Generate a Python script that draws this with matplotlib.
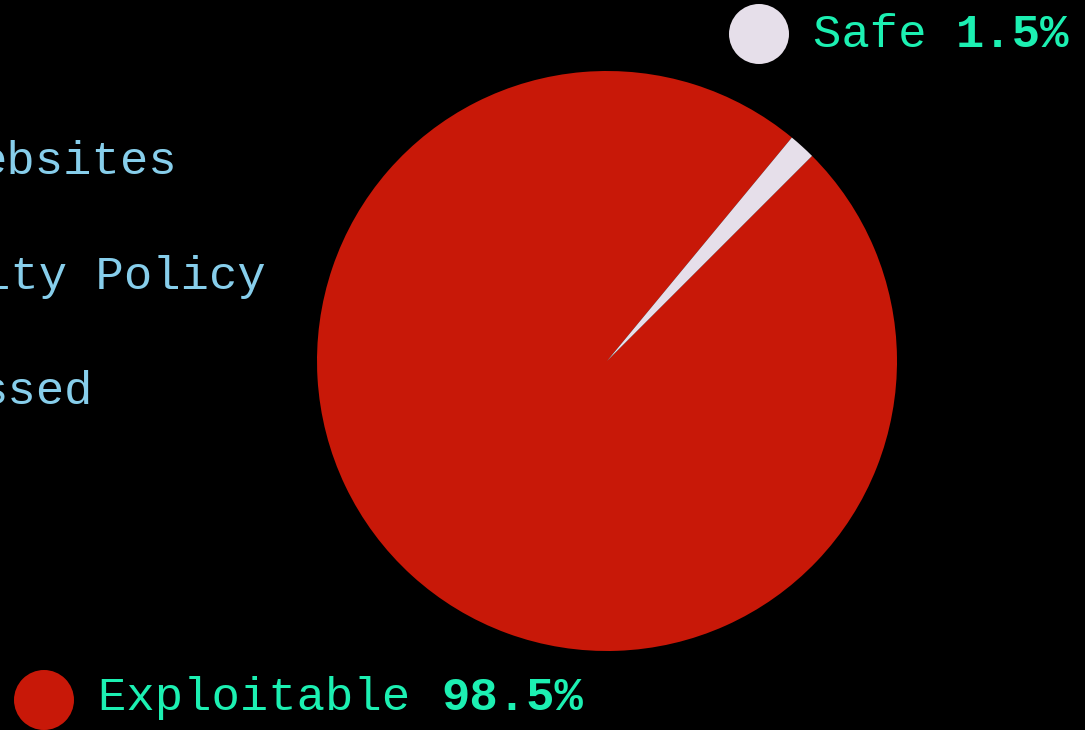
import matplotlib
matplotlib.use("Agg")
import matplotlib.pyplot as plt
from matplotlib.patches import Circle

# data
labels = ["Exploitable", "Safe"]
shares = [98.5, 1.5]
slice_colors = ["#C81808", "#E6DFEA"]
side_text = ["ebsites", "ity Policy", "ssed"]   # cut-off text on the left edge

W, H = 1085, 730
fig = plt.figure(figsize=(W / 100, H / 100), dpi=100, facecolor="black")
ax = fig.add_axes([0, 0, 1, 1])
ax.set_facecolor("black")

font = "Liberation Mono"
fs = 34
green = "#1CF0B2"

# pie, safe slice sits at about 45-50 degrees
ax.pie(shares, colors=slice_colors, startangle=45 + shares[1] * 3.6,
       center=(607, H - 361), radius=290, frame=True,
       wedgeprops={"linewidth": 0})
ax.set_xlim(0, W)
ax.set_ylim(0, H)
ax.set_aspect("equal")
ax.axis("off")

# left labels, partly off canvas (right edges as in the picture)
side_right = [178, 266, 93]
for i, t in enumerate(side_text):
    ax.text(side_right[i], H - (174 + 115 * i), t, ha="right", va="baseline",
            family=font, fontsize=fs, color="#87CEEB")

# legend-like markers with values
legend_pos = {"Safe": (759, 34, 813, 47), "Exploitable": (44, 700, 98, 710)}
for lab, val, col in zip(labels, shares, slice_colors):
    cx, cy, tx, ty = legend_pos[lab]
    ax.add_patch(Circle((cx, H - cy), 30, color=col, lw=0))
    ax.text(tx, H - ty, lab + " ", ha="left", va="baseline",
            family=font, fontsize=fs, color=green)
    ax.text(tx + 28.6 * (len(lab) + 1), H - ty, f"{val}%", ha="left",
            va="baseline", family=font, fontsize=fs, color=green,
            fontweight="bold")

fig.savefig("out.png", dpi=100, facecolor="black")
